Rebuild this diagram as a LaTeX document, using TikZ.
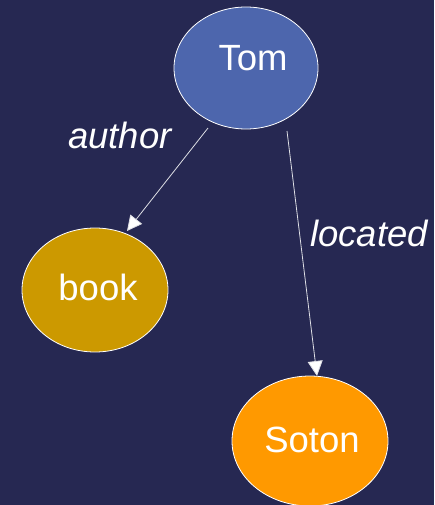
\documentclass[tikz,border=0pt]{standalone}
\usetikzlibrary{arrows.meta}
\usepackage{fontspec}
\setmainfont{Liberation Sans}
\definecolor{bg}{RGB}{38,40,82}
\definecolor{tomfill}{RGB}{77,102,173}
\definecolor{bookfill}{RGB}{204,153,0}
\definecolor{sotonfill}{RGB}{255,153,0}
\tikzset{
  res/.style={ellipse, draw=white, line width=0.8pt, inner sep=0pt},
  rtxt/.style={text=white, font=\fontsize{36.5}{42}\selectfont, inner sep=0pt},
  lbl/.style={font=\fontsize{36.5}{42}\selectfont\itshape, text=white, inner sep=0pt},
  edge/.style={draw=white!85!bg, line width=0.8pt,
               -{Triangle[length=15pt,width=15pt,fill=white]}}
}
\usetikzlibrary{shapes.geometric}
\begin{document}
\begin{tikzpicture}[x=1pt,y=-1pt]
  \fill[bg] (0,0) rectangle (434,505);
  \useasboundingbox (0,0) rectangle (434,505);

  % resources
  \node[res, fill=tomfill, minimum width=144pt, minimum height=122pt] (tom) at (246,68) {};
  \node[rtxt] (tomtxt) at (253,58) {Tom};
  \node[res, fill=bookfill, minimum width=146pt, minimum height=124pt] (book) at (95,290) {};
  \node[rtxt] (booktxt) at (98,287) {book};
  \node[res, fill=sotonfill, minimum width=156pt, minimum height=130pt] (soton) at (310,441) {};
  \node[rtxt] (sotontxt) at (312,440) {Soton};

  % edge end points
  \coordinate (a1) at (208,128);
  \coordinate (a2) at (127,231);
  \coordinate (l1) at (287,131);
  \coordinate (l2) at (317,376);

  \draw[edge] (a1) -- (a2);
  \draw[edge] (l1) -- (l2);

  % property labels
  \node[lbl] (author) at (120,135) {author};
  \node[lbl] (located) at (369,233) {located};
\end{tikzpicture}
\end{document}
